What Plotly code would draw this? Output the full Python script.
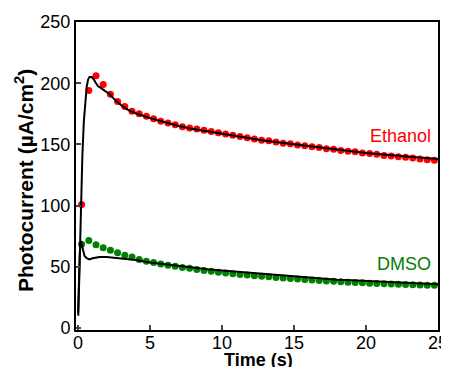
import plotly.graph_objects as go

# Measured points (markers), every 0.5 s
t_dots = [0.25 + 0.5 * k for k in range(50)]
ethanol_dots = [101, 194, 206, 199, 191, 185, 181, 177, 175, 173,
                171, 169, 167.5, 166, 164.5, 163.5, 162.5, 161.5, 160.5, 159.5,
                158.5, 157.5, 156.5, 155.5, 154.5, 153.5, 153, 152, 151, 150.5,
                149.5, 149, 148, 147.5, 146.5, 146, 145, 144.5, 144, 143,
                142.5, 142, 141, 140.5, 140, 139.5, 139, 138, 137.5, 137]
dmso_dots = [68.5, 71.5, 68, 65.5, 63.5, 61.5, 59.5, 58, 56, 54.5,
             53.5, 52.3, 51.3, 50.5, 49.5, 48.8, 47.8, 47, 46.3, 45.6,
             45, 44.4, 43.8, 43.3, 42.8, 42.3, 41.8, 41.3, 40.8, 40.4,
             40, 39.6, 39.2, 38.8, 38.5, 38.2, 37.8, 37.5, 37.2, 36.9,
             36.6, 36.4, 36.1, 35.9, 35.7, 35.5, 35.3, 35.1, 35, 34.9]

# Fitted / simulated curves (black lines)
t_eth_line = [0.02, 0.1, 0.2, 0.3, 0.4, 0.5, 0.6, 0.7, 0.8, 0.95, 1.1, 1.25, 1.4, 1.6,
              1.8, 2.2, 2.6, 3, 3.5, 4, 5, 6, 7, 8, 9, 10, 11, 12, 13, 14, 15, 16,
              17, 18, 19, 20, 21, 22, 23, 24, 25]
eth_line = [10, 50, 100, 140, 168, 186, 197, 203, 205, 205, 203, 200, 197.5, 196,
            194.5, 191, 186, 182, 178, 175.5, 171.5, 168, 165, 162.5, 160.5, 158.5, 156.5, 154.5, 153, 151.5, 150, 148.5,
            147, 145.5, 144.5, 143, 142, 141, 140, 139, 138]
t_dmso_line = [0.0, 0.05, 0.12, 0.2, 0.3, 0.45, 0.6, 0.8, 1.0, 1.5, 2, 2.5, 3, 3.5, 4, 5, 6,
               7, 8, 9, 10, 11, 12, 13, 14, 15, 16, 17, 18, 19, 20, 21, 22, 23, 24, 25]
dmso_line = [12, 35, 60, 71, 66, 59, 57, 56, 57, 58, 58, 57.5, 57, 56.5, 55.5, 53.5, 52,
             50.5, 49, 48, 47, 46, 45, 44, 43, 42, 41, 40.5, 39.5, 39, 38.5, 38, 37.3, 36.8, 36.3, 35.8]

x_ticks = [0, 5, 10, 15, 20, 25]
y_ticks = [0, 50, 100, 150, 200, 250]

FONT = "Liberation Sans, Arial, sans-serif"

fig = go.Figure()
fig.add_trace(go.Scatter(x=t_dots, y=ethanol_dots, mode="markers",
                         marker=dict(color="#ff0000", size=7), showlegend=False))
fig.add_trace(go.Scatter(x=t_dots, y=dmso_dots, mode="markers",
                         marker=dict(color="#008000", size=7), showlegend=False))
fig.add_trace(go.Scatter(x=t_eth_line, y=eth_line, mode="lines",
                         line=dict(color="black", width=2), showlegend=False))
fig.add_trace(go.Scatter(x=t_dmso_line, y=dmso_line, mode="lines",
                         line=dict(color="black", width=2), showlegend=False))

fig.add_annotation(x=24.62, y=156.9, text="Ethanol", showarrow=False, xanchor="right",
                   yanchor="middle", font=dict(family=FONT, size=18, color="#ff0000"))
fig.add_annotation(x=24.62, y=52.3, text="DMSO", showarrow=False, xanchor="right",
                   yanchor="middle", font=dict(family=FONT, size=18, color="#008000"))

# Axis titles
fig.add_annotation(xref="paper", yref="paper", x=0.5028, y=-0.0974, text="<b>Time (s)</b>",
                   showarrow=False, xanchor="center", yanchor="middle",
                   font=dict(family=FONT, size=18, color="black"))
fig.add_annotation(xref="paper", yref="paper", x=-0.1436, y=0.4838,
                   text="<b>Photocurrent (µA/cm<sup>2</sup>)</b>", textangle=-90,
                   showarrow=False, xanchor="center", yanchor="middle",
                   font=dict(family=FONT, size=21, color="black"))

fig.update_layout(
    width=441, height=359,
    margin=dict(l=68, r=11, t=14, b=37, autoexpand=False),
    paper_bgcolor="white", plot_bgcolor="white",
    font=dict(family=FONT, size=18, color="black"),
    xaxis=dict(range=[-0.14, 25], tickvals=x_ticks, ticks="inside", ticklen=5, tickwidth=2,
               showline=True, linewidth=2, linecolor="black", mirror=True, showgrid=False,
               zeroline=False, tickfont=dict(size=18), automargin=False, ticklabelstandoff=-5),
    yaxis=dict(range=[-1.6, 250], tickvals=y_ticks, ticks="inside", ticklen=5, tickwidth=2,
               showline=True, linewidth=2, linecolor="black", mirror=True, showgrid=False,
               zeroline=False, tickfont=dict(size=18), automargin=False),
)

fig.write_html("out.html")
